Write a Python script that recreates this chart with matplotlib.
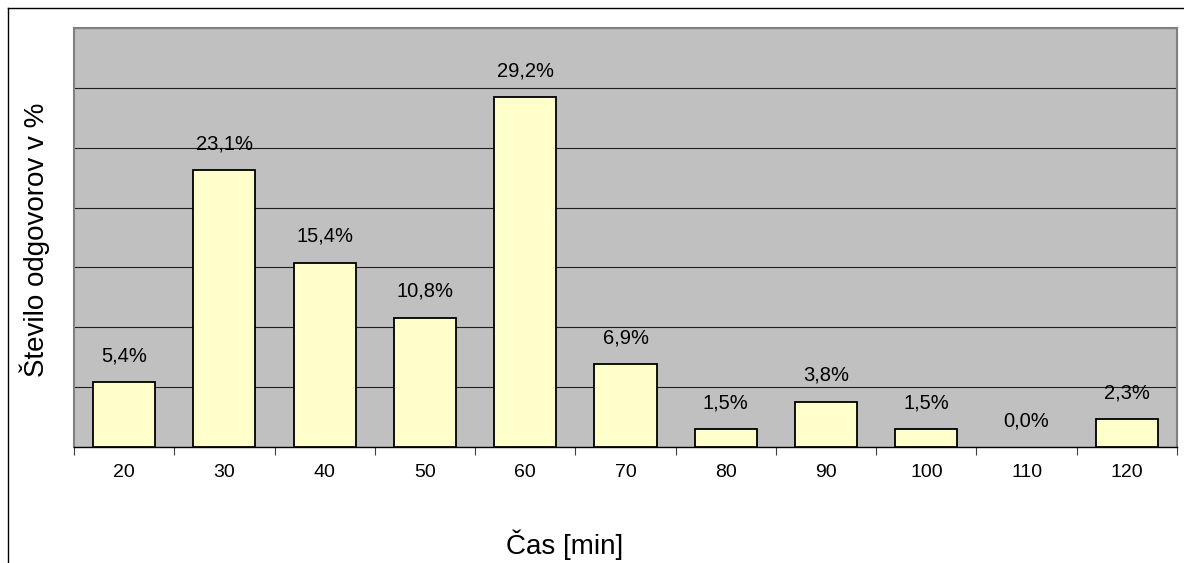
import matplotlib
matplotlib.use("Agg")
import matplotlib.pyplot as plt
from matplotlib.lines import Line2D

categories = ["20", "30", "40", "50", "60", "70", "80", "90", "100", "110", "120"]
values = [5.4, 23.1, 15.4, 10.8, 29.2, 6.9, 1.5, 3.8, 1.5, 0.0, 2.3]
labels = ["5,4%", "23,1%", "15,4%", "10,8%", "29,2%", "6,9%", "1,5%", "3,8%", "1,5%", "0,0%", "2,3%"]

plt.rcParams['font.family'] = ['Liberation Sans', 'DejaVu Sans']

fig = plt.figure(figsize=(11.84, 5.63), dpi=100)
W, H = 1184, 563
ax = fig.add_axes([74 / W, 1 - 447 / H, (1177 - 74) / W, (447 - 28) / H])
ax.set_facecolor('#C0C0C0')

x = list(range(len(categories)))
edges = ['black' if v > 0 else 'none' for v in values]
ax.bar(x, values, width=0.62, color='#FFFFCC', edgecolor=edges, linewidth=1.3, zorder=3)

ax.set_xlim(-0.5, len(categories) - 0.5)
ax.set_ylim(0, 35)
ax.set_yticks([0, 5, 10, 15, 20, 25, 30, 35])
ax.set_yticklabels([])
ax.yaxis.grid(True, color='#202020', linewidth=0.8, zorder=1)
ax.set_axisbelow(True)

ax.set_xticks([i - 0.5 for i in range(len(categories) + 1)], minor=False)
ax.set_xticklabels([])
ax.set_xticks(x, minor=True)
ax.set_xticklabels(categories, minor=True, fontsize=14)
ax.tick_params(axis='x', which='minor', length=0, pad=12)
ax.tick_params(axis='x', which='major', length=6, color='#404040', direction='out')
ax.tick_params(axis='y', length=0)

for s in ['top', 'right', 'left']:
    ax.spines[s].set_color('#808080')
    ax.spines[s].set_linewidth(1.5)
ax.spines['bottom'].set_color('black')
ax.spines['bottom'].set_linewidth(1.0)

for xi, v, lab in zip(x, values, labels):
    ax.annotate(lab, (xi, v), xytext=(0, 19), textcoords='offset points',
                ha='center', va='center', fontsize=14.5)

fig.text(35 / W, 1 - 240 / H, "Število odgovorov v %", rotation=90,
         ha='center', va='center', fontsize=20)
fig.text(565 / W, 1 - 545 / H, "Čas [min]", ha='center', va='center', fontsize=20)

fig.add_artist(Line2D([8 / W, 1], [1 - 7.5 / H, 1 - 7.5 / H], color='black', linewidth=1.0,
                      transform=fig.transFigure))
fig.add_artist(Line2D([8 / W, 8 / W], [0, 1 - 7.5 / H], color='black', linewidth=1.0,
                      transform=fig.transFigure))

fig.savefig("out.png", dpi=100)
